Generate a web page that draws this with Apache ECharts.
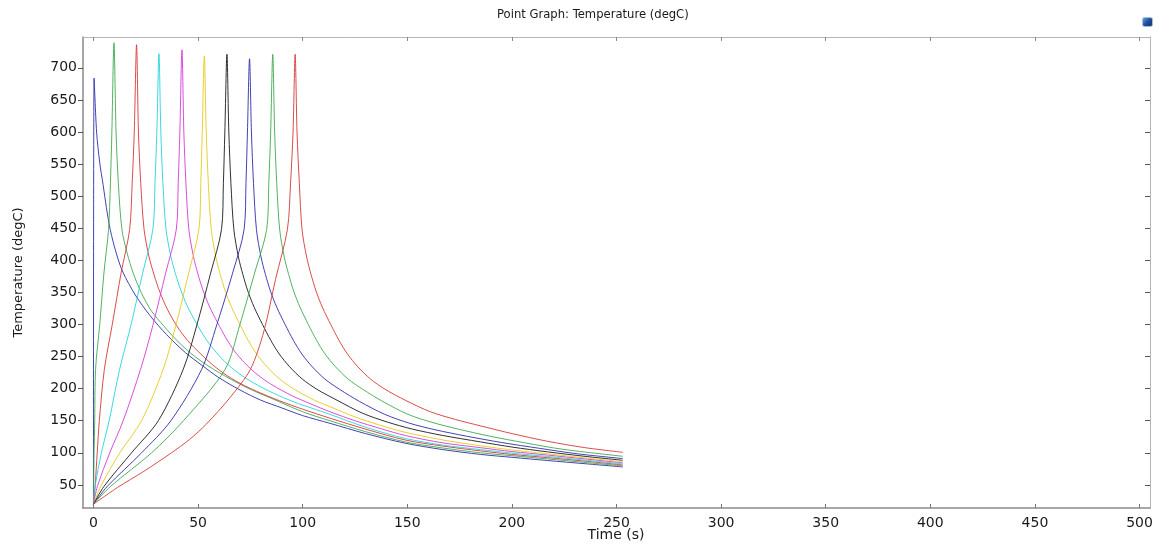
<!DOCTYPE html>
<html>
<head>
<meta charset="utf-8">
<script src="https://cdn.jsdelivr.net/npm/echarts@6/dist/echarts.min.js"></script>
<style>
html,body{margin:0;padding:0;background:#ffffff;}
#chart{width:1159px;height:547px;}
</style>
</head>
<body>
<div id="chart"></div>
<script>
// ---- data ----
const titleText = 'Point Graph: Temperature (degC)';
const xAxisName = 'Time (s)';
const yAxisName = 'Temperature (degC)';
const xTicks = [0, 50, 100, 150, 200, 250, 300, 350, 400, 450, 500];
const yTicks = [50, 100, 150, 200, 250, 300, 350, 400, 450, 500, 550, 600, 650, 700];
const seriesNames = ['Point 1','Point 2','Point 3','Point 4','Point 5','Point 6','Point 7','Point 8','Point 9','Point 10'];
const seriesColors = ['#2c2caa','#40a850','#d63838','#26d4dc','#d63ad6','#e4ca1c','#1a1a1a','#2c2caa','#40a850','#d63838'];

const point1 = [[0,20],[0.3,684],[1.5,600],[3,552],[4.6,518],[6.2,482],[8,448],[11,410],[14,382],[20,346],[27,314],[35,284],[44,256],[52,236],[60,217],[70,198],[80,182],[90,170],[100,158],[113,146],[130,130],[149,115],[167,105],[185,97.5],[200,93],[217,88],[235,83],[253,78]];
const point2 = [[0,20],[0.1,48],[0.3,100],[0.6,150],[1,230],[3,300],[5,380],[7.2,448],[8.1,520],[8.8,600],[9.8,739],[10.8,600],[11.9,520],[13.6,448],[16.2,410],[19,380],[22.8,350],[27.5,322],[33.5,298],[40.5,273],[48.5,250],[57,231],[66,214],[75,199],[85,185],[100,164],[113,150],[130,133],[149,117],[167,107.5],[185,100],[200,95.5],[217,90.5],[235,85],[253,79.6]];
const point3 = [[0,20],[0.8,48],[1.8,100],[2.8,150],[5.2,230],[9,300],[13.2,380],[17.3,448],[18.5,520],[19.5,600],[20.6,736],[21.5,600],[22.6,520],[24.2,448],[26.6,405],[29,377],[31.8,350],[35.3,324],[39.8,298],[45,275],[51,255],[57,237],[64,220],[72,205],[80,193],[89,181],[100,168],[113,154],[130,137],[149,120],[167,110.5],[185,103],[200,97.5],[217,92.5],[235,87],[253,81.1]];
const point4 = [[0,20],[0.8,48],[3.8,100],[7.5,150],[12.5,230],[18,300],[23.5,380],[28.4,448],[29.4,520],[30.3,600],[31.3,722],[32.2,600],[33.2,520],[34.7,448],[37,406],[39.2,379],[41.7,354],[44.8,329],[49,303],[53.2,280],[57.5,261],[62.8,242],[69,225],[76.5,209],[86,193],[96,179],[104,170],[113,160],[130,140],[149,122.5],[167,112],[185,105],[200,99.5],[217,94.3],[235,88.5],[253,82.7]];
const point5 = [[0,20],[1.9,48],[7.8,100],[14.2,150],[22.5,230],[28.5,300],[34.5,380],[39.6,448],[40.5,520],[41.3,600],[42.3,728],[43.2,600],[44.2,520],[45.6,448],[47.8,406],[49.9,379],[52.3,354],[55.3,329],[59.3,303],[63.3,279],[67.3,259],[72.3,240],[78.3,222],[85.3,206],[94.9,189],[104,176],[113,164],[125,150],[137,138],[149,127],[167,115.5],[185,108],[200,102],[217,96.5],[235,90.5],[253,84.3]];
const point6 = [[0,20],[3.5,48],[12.6,100],[23,150],[33.3,230],[39.5,300],[45.5,380],[50.4,448],[51.3,520],[52,600],[53,718],[53.9,600],[54.9,520],[56.3,448],[58.5,405],[60.6,378],[63,352],[66,327],[70,300],[74,275],[78,254],[83,234],[89,215],[96,199],[105.6,182],[113,172],[125,156],[137,143],[149,132],[167,120],[185,111],[200,104.5],[217,98.5],[235,92],[253,86.3]];
const point7 = [[0,20],[5.1,48],[18.2,100],[31,150],[42.9,230],[49.5,300],[56,380],[61.2,448],[62.1,520],[62.8,600],[63.8,721],[64.7,600],[65.7,520],[67.1,448],[69.3,405],[71.4,378],[73.8,352],[76.8,327],[80.8,300],[84.8,275],[88.8,254],[93.8,234],[99.8,215],[106.8,199],[116.4,182],[128.4,162],[140.4,148],[152.4,137],[167,127],[185,117],[200,109],[217,101.5],[235,94.5],[253,88.4]];
const point8 = [[0,20],[6.7,48],[23,100],[37,150],[51.7,230],[59,300],[66.5,380],[72,448],[72.9,520],[73.6,600],[74.6,714],[75.5,600],[76.5,520],[77.9,448],[80.1,405],[82.2,378],[84.6,352],[87.6,327],[91.6,300],[95.6,275],[99.6,254],[104.6,234],[110.6,215],[117.6,199],[127.2,180],[139.2,160],[151.2,146],[163.2,136],[178.2,126],[195.2,116],[213.2,107],[231.2,98.5],[253,91]];
const point9 = [[0,20],[8.3,48],[27.8,100],[43,150],[62.9,230],[70,300],[77,380],[82.8,448],[83.8,520],[84.7,600],[85.7,721],[86.6,600],[87.6,520],[89,448],[91.2,405],[93.3,378],[95.7,352],[98.7,327],[102.7,300],[106.7,275],[110.7,254],[115.7,234],[121.7,215],[128.7,199],[138.3,180],[150.3,160],[162.3,147],[174.3,137],[189.3,126],[206.3,115.5],[224.3,105.5],[253,94.6]];
const point10 = [[0,20],[11.5,46],[24,71],[37.3,100],[46,121],[54,145],[65,185],[75,230],[81.5,290],[87,370],[92.7,448],[94.2,520],[95.4,600],[96.4,721],[97.3,600],[98.4,520],[99.7,448],[101.9,405],[104,378],[106.4,352],[109.4,327],[113.4,300],[117.4,275],[121.4,254],[126.4,234],[132.4,215],[139.4,199],[149,182],[161,164],[173,152],[185,142],[200,130],[217,118],[235,108],[253,100.8]];
const seriesData = [point1, point2, point3, point4, point5, point6, point7, point8, point9, point10];

// ---- chart ----
const FONT = 'DejaVu Sans';
const chart = echarts.init(document.getElementById('chart'), null, {renderer: 'canvas'});

const series = seriesData.map((d, i) => ({
  name: seriesNames[i],
  type: 'line',
  data: d,
  xAxisIndex: 0,
  yAxisIndex: 0,
  showSymbol: false,
  symbol: 'none',
  smooth: 0.3,
  lineStyle: {width: 0.9, color: seriesColors[i]},
  itemStyle: {color: seriesColors[i]},
  animation: false,
  z: 3
}));

chart.setOption({
  animation: false,
  backgroundColor: '#ffffff',
  grid: {left: 83, right: 9, top: 37, bottom: 39, show: false, containLabel: false, outerBoundsMode: 'none'},
  xAxis: [
    {
      type: 'value', position: 'bottom', min: -5, max: 505,
      axisLine: {show: true, onZero: false, lineStyle: {color: '#8a8a8a', width: 1.5}},
      axisTick: {show: true, inside: true, length: 4, customValues: xTicks, lineStyle: {color: '#777'}},
      axisLabel: {show: true, customValues: xTicks, margin: 8, fontSize: 14, fontFamily: FONT, color: '#1a1a1a'},
      splitLine: {show: false}
    },
    {
      type: 'value', position: 'top', min: -5, max: 505,
      axisLine: {show: true, onZero: false, lineStyle: {color: '#b5b5b5', width: 1}},
      axisTick: {show: true, inside: true, length: 4, customValues: xTicks, lineStyle: {color: '#888'}},
      axisLabel: {show: false},
      splitLine: {show: false}
    }
  ],
  yAxis: [
    {
      type: 'value', position: 'left', min: 14, max: 748,
      axisLine: {show: true, onZero: false, lineStyle: {color: '#8a8a8a', width: 1.5}},
      axisTick: {show: true, inside: false, length: 5, customValues: yTicks, lineStyle: {color: '#555'}},
      axisLabel: {show: true, customValues: yTicks, margin: 6, fontSize: 14, fontFamily: FONT, color: '#1a1a1a'},
      splitLine: {show: false},
      name: yAxisName, nameLocation: 'middle', nameGap: 58,
      nameTextStyle: {fontSize: 13, fontFamily: FONT, color: '#1a1a1a'}
    },
    {
      type: 'value', position: 'right', min: 14, max: 748,
      axisLine: {show: true, onZero: false, lineStyle: {color: '#b5b5b5', width: 1}},
      axisTick: {show: true, inside: true, length: 5, customValues: yTicks, lineStyle: {color: '#555'}},
      axisLabel: {show: false},
      splitLine: {show: false}
    }
  ],
  graphic: [
    {
      type: 'text', left: 497, top: 9,
      style: {text: titleText, font: '11.6px "DejaVu Sans"', fill: '#1a1a1a'}
    },
    {
      type: 'text', x: 616, y: 535,
      style: {text: xAxisName, font: '14px "DejaVu Sans"', fill: '#1a1a1a', align: 'center', verticalAlign: 'middle'}
    },
    {
      type: 'rect', left: 1142, top: 17, z: 10,
      shape: {x: 0, y: 0, width: 10, height: 9, r: 2},
      style: {
        fill: new echarts.graphic.LinearGradient(0, 0, 1, 1, [
          {offset: 0, color: '#7fb0e8'}, {offset: 0.5, color: '#1f4fa0'}, {offset: 1, color: '#10306a'}
        ]),
        stroke: '#a9bfd6', lineWidth: 1
      }
    }
  ],
  series: series
});
</script>
</body>
</html>
